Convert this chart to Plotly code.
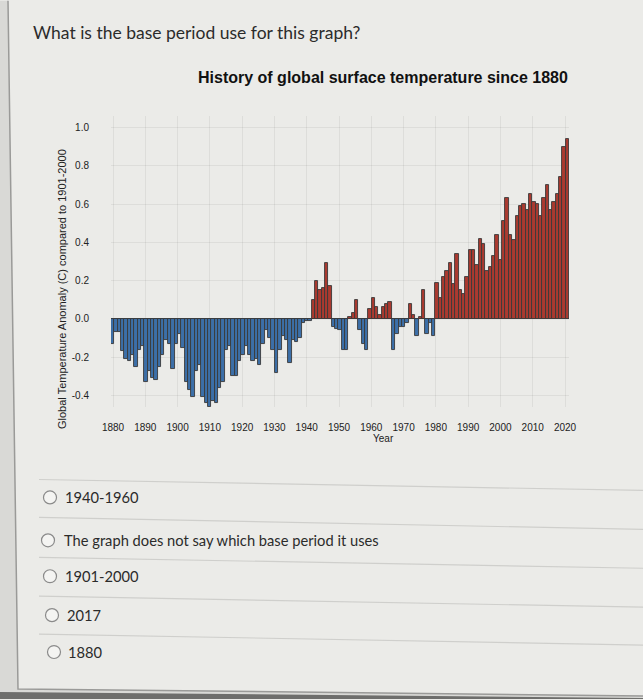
import plotly.graph_objects as go

# ---------------- data ----------------
years = list(range(1880, 2017))
anomaly = [
    -0.13, -0.07, -0.07, -0.17, -0.21, -0.22, -0.19, -0.25, -0.16, -0.14,   # 1880s
    -0.33, -0.27, -0.31, -0.32, -0.25, -0.19, -0.11, -0.13, -0.26, -0.13,   # 1890s
    -0.08, -0.15, -0.33, -0.37, -0.41, -0.27, -0.24, -0.41, -0.44, -0.46,   # 1900s
    -0.43, -0.44, -0.36, -0.33, -0.16, -0.14, -0.30, -0.30, -0.22, -0.19,   # 1910s
    -0.14, -0.19, -0.22, -0.21, -0.24, -0.13, -0.06, -0.10, -0.16, -0.28,   # 1920s
    -0.16, -0.09, -0.11, -0.23, -0.11, -0.12, -0.10, -0.02, -0.01, -0.01,   # 1930s
    0.10, 0.20, 0.15, 0.16, 0.29, 0.17, -0.04, -0.05, -0.06, -0.16,         # 1940s
    -0.16, 0.01, 0.03, 0.10, -0.06, -0.13, -0.16, 0.05, 0.11, 0.06,         # 1950s
    0.02, 0.06, 0.08, 0.09, -0.16, -0.08, -0.04, -0.04, -0.02, 0.08,        # 1960s
    0.02, -0.09, 0.01, 0.15, -0.08, -0.02, -0.09, 0.19, 0.11, 0.22,         # 1970s
    0.25, 0.29, 0.18, 0.34, 0.15, 0.13, 0.22, 0.36, 0.36, 0.28,             # 1980s
    0.42, 0.39, 0.25, 0.27, 0.33, 0.44, 0.31, 0.51, 0.63, 0.44,             # 1990s
    0.41, 0.54, 0.59, 0.60, 0.57, 0.65, 0.61, 0.60, 0.54, 0.63,             # 2000s
    0.70, 0.57, 0.61, 0.65, 0.74, 0.90, 0.94,                               # 2010s
]
x_tick_vals = list(range(1880, 2021, 10))
x_tick_text = [str(v) for v in x_tick_vals]
y_tick_vals = [-0.4, -0.2, 0.0, 0.2, 0.4, 0.6, 0.8, 1.0]
y_tick_text = ["-0.4", "-0.2", "0.0", "0.2", "0.4", "0.6", "0.8", "1.0"]

question = "What is the base period use for this graph?"
chart_title = "History of global surface temperature since 1880"
y_title = "Global Temperature Anomaly (C) compared to 1901-2000"
x_title = "Year"
options = ["1940-1960", "The graph does not say which base period it uses",
           "1901-2000", "2017", "1880"]

# ---------------- layout geometry (pixels) ----------------
W, H = 643, 700
L, R, T, B = 111, 569, 115.5, 407.3


def px(x):
    return (x - L) / (R - L)


def py(y):
    return (B - y) / (B - T)


BG = "#ebebe8"
RED = "#aa3a30"
BLUE = "#3c6fa8"
colors = [RED if v > 0 else BLUE for v in anomaly]

fig = go.Figure()
fig.add_trace(go.Bar(
    x=years, y=anomaly,
    marker=dict(color=colors, line=dict(color="#3a3a3a", width=0.9)),
    showlegend=False, hoverinfo="x+y",
))
# carrier for the tick-label axis
fig.add_trace(go.Scatter(x=[], y=[], xaxis="x2", showlegend=False))

axis_font = dict(family="Liberation Sans, Arial, sans-serif", size=10, color="#222")
grid = "rgba(0,0,0,0.06)"

# x tick labels axis geometry (labels 1880 at px 113, 2020 at px 565)
ppy = (565 - 113) / 140.0
x2_lo = 1880 - (113 - L) / ppy
x2_hi = x2_lo + (R - L) / ppy

fig.update_layout(
    width=W, height=H,
    margin=dict(l=L, r=W - R, t=T, b=H - B, pad=0),
    paper_bgcolor=BG, plot_bgcolor=BG,
    bargap=0,
    xaxis=dict(range=[1879.5, 2016.5], showticklabels=False, showgrid=False,
               zeroline=False, showline=False, ticks=""),
    xaxis2=dict(overlaying="x", anchor="y", side="bottom",
                range=[x2_lo, x2_hi], tickvals=x_tick_vals, ticktext=x_tick_text,
                tickfont=axis_font, ticks="outside", ticklen=11,
                tickcolor="rgba(0,0,0,0)", showgrid=True, gridcolor=grid,
                zeroline=False, showline=False),
    yaxis=dict(range=[-0.46, 1.06], tickvals=y_tick_vals, ticktext=y_tick_text,
               tickfont=axis_font, ticks="outside", ticklen=19,
               tickcolor="rgba(0,0,0,0)", showgrid=True, gridcolor=grid,
               zeroline=True, zerolinecolor="#3a3a3a", zerolinewidth=1,
               showline=False),
    font=dict(family="Liberation Sans, Arial, sans-serif", color="#222"),
)

ann = []
# question
ann.append(dict(text=question, x=px(31), y=py(32), xref="paper", yref="paper",
                xanchor="left", yanchor="middle", showarrow=False,
                font=dict(family="Lato, sans-serif", size=17.5, color="#2b2b2b")))
# chart title
ann.append(dict(text="<b>" + chart_title + "</b>", x=px(383), y=py(77),
                xref="paper", yref="paper", xanchor="center", yanchor="middle",
                showarrow=False,
                font=dict(family="Liberation Sans, Arial, sans-serif", size=16,
                          color="#111")))
# y title
ann.append(dict(text=y_title, x=px(62), y=py(289), xref="paper", yref="paper",
                xanchor="center", yanchor="middle", textangle=-90, showarrow=False,
                font=dict(family="Liberation Sans, Arial, sans-serif", size=11,
                          color="#222")))
# x title
ann.append(dict(text=x_title, x=px(383), y=py(439), xref="paper", yref="paper",
                xanchor="center", yanchor="middle", showarrow=False,
                font=dict(family="Liberation Sans, Arial, sans-serif", size=10,
                          color="#222")))

shapes = []
opt_y = [498, 541, 577, 616, 653]
opt_cx = [50, 48, 50, 52, 54]
opt_tx = [63, 62, 63, 65, 66]
for text, yy, cx, tx in zip(options, opt_y, opt_cx, opt_tx):
    ann.append(dict(text=text, x=px(tx), y=py(yy), xref="paper", yref="paper",
                    xanchor="left", yanchor="middle", showarrow=False,
                    font=dict(family="Lato, sans-serif", size=14.7, color="#2b2b2b")))
    r = 6.5
    shapes.append(dict(type="circle", xref="paper", yref="paper",
                       x0=px(cx - r), x1=px(cx + r), y0=py(yy + r), y1=py(yy - r),
                       line=dict(color="#8a8a8a", width=1.2), fillcolor="#f4f4f2"))

# separator lines (slightly sloped as in the photo)
for y_left, y_right in [(480, 491), (518, 530), (558, 569), (597, 608), (635, 646)]:
    shapes.append(dict(type="line", xref="paper", yref="paper",
                       x0=px(39), y0=py(y_left), x1=px(643), y1=py(y_right),
                       line=dict(color="#cfcfcc", width=1.2)))

# page frame: left border and bottom strip
shapes.append(dict(type="path", xref="paper", yref="paper",
                   path=f"M {px(0)} {py(0)} L {px(8)} {py(0)} L {px(18)} {py(690)} "
                        f"L {px(643)} {py(697)} L {px(643)} {py(700)} L {px(0)} {py(700)} Z",
                   fillcolor="#d9d9d6", line=dict(width=0)))
shapes.append(dict(type="path", xref="paper", yref="paper",
                   path=f"M {px(8)} {py(0)} L {px(18)} {py(690)} L {px(643)} {py(697)}",
                   line=dict(color="#9a9a98", width=1.5)))
shapes.append(dict(type="path", xref="paper", yref="paper",
                   path=f"M {px(0)} {py(693)} L {px(643)} {py(699)} L {px(643)} {py(700)} "
                        f"L {px(0)} {py(700)} Z",
                   fillcolor="#6e6e6c", line=dict(width=0)))

fig.update_layout(annotations=ann, shapes=shapes)
fig.write_html(
    "out.html",
    config={"displayModeBar": False},
    post_script="document.body.style.margin='0';document.body.style.overflow='hidden';",
)
